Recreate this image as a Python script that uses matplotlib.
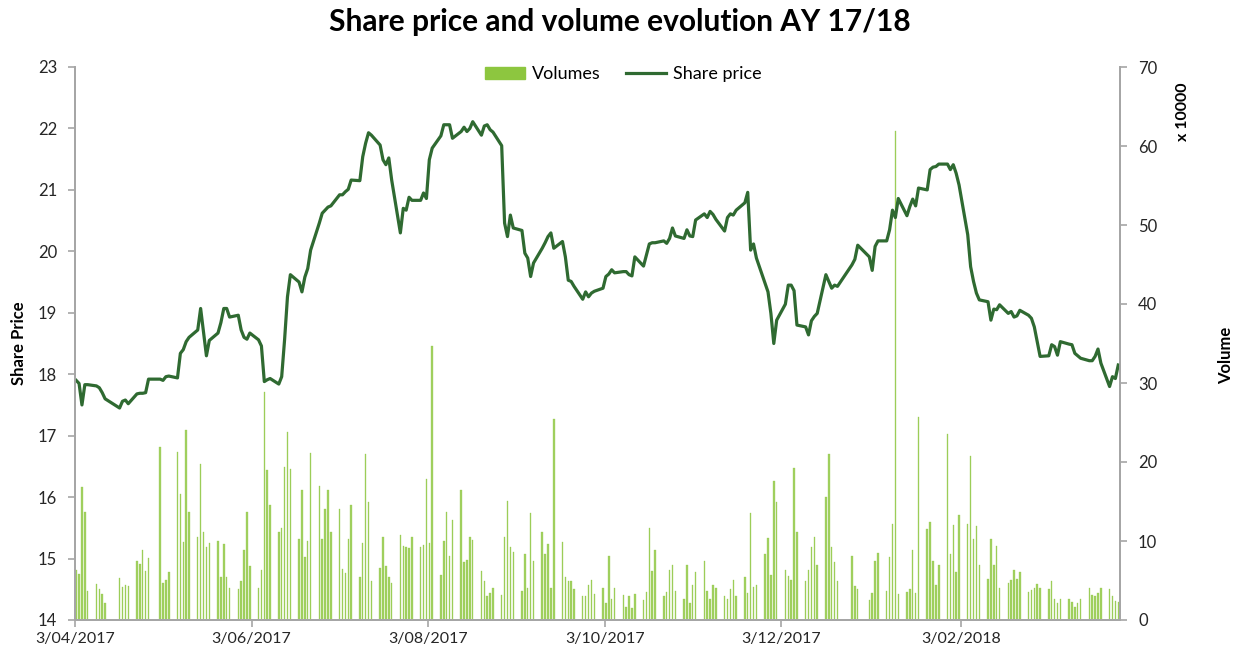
import numpy as np
import pandas as pd
import matplotlib
matplotlib.use("Agg")
import matplotlib.pyplot as plt
import matplotlib.dates as mdates
from matplotlib.patches import Patch
from matplotlib.lines import Line2D

plt.rcParams['font.family'] = ['Lato', 'DejaVu Sans']

# trading days (Euronext holidays removed)
holidays = ['2017-04-14', '2017-04-17', '2017-05-01',
            '2017-12-25', '2017-12-26', '2018-01-01']
days = pd.bdate_range('2017-04-03', '2018-03-29')
days = days[~days.isin(pd.to_datetime(holidays))]

# share price, one row per week
price = [
    17.90, 17.85, 17.50, 17.83, 17.83,
    17.81, 17.78, 17.70, 17.60,
    17.45, 17.56, 17.58, 17.52,
    17.68, 17.69, 17.69, 17.70, 17.92,
    17.92, 17.90, 17.96, 17.97,
    17.94, 18.34, 18.40, 18.53, 18.60,
    18.72, 19.07, 18.68, 18.30, 18.55,
    18.67, 18.84, 19.07, 19.07, 18.93,
    18.96, 18.72, 18.60, 18.57, 18.67,
    18.56, 18.46, 17.88, 17.91, 17.93,
    17.84, 17.96, 18.56, 19.26, 19.62,
    19.50, 19.34, 19.58, 19.72, 20.02,
    20.46, 20.62, 20.67, 20.72, 20.74,
    20.92, 20.92, 20.97, 21.01, 21.16,
    21.15, 21.54, 21.76, 21.93, 21.89,
    21.73, 21.49, 21.41, 21.52, 21.16,
    20.30, 20.70, 20.67, 20.88, 20.83,
    20.83, 20.95, 20.86, 21.49, 21.68,
    21.88, 22.06, 22.06, 22.06, 21.84,
    21.95, 22.02, 21.95, 22.00, 22.11,
    21.89, 22.04, 22.06, 21.98, 21.94,
    21.72, 20.46, 20.24, 20.59, 20.38,
    20.34, 19.97, 19.89, 19.59, 19.81,
    20.05, 20.14, 20.24, 20.30, 20.05,
    20.16, 19.91, 19.53, 19.51, 19.43,
    19.22, 19.34, 19.26, 19.32, 19.35,
    19.40, 19.59, 19.63, 19.70, 19.65,
    19.67, 19.67, 19.62, 19.60, 19.91,
    19.76, 19.94, 20.12, 20.14, 20.14,
    20.17, 20.13, 20.21, 20.38, 20.25,
    20.21, 20.35, 20.25, 20.24, 20.51,
    20.61, 20.55, 20.65, 20.60, 20.52,
    20.33, 20.55, 20.61, 20.59, 20.67,
    20.79, 20.96, 20.02, 20.12, 19.89,
    19.48, 19.34, 18.99, 18.50, 18.88,
    19.14, 19.45, 19.45, 19.36, 18.80,
    18.77, 18.64, 18.87, 18.94, 18.99,
    19.62, 19.51, 19.40, 19.45, 19.43,
    19.78, 19.87, 20.10,
    19.91, 19.69, 20.08, 20.17,
    20.17, 20.35, 20.67, 20.55, 20.86,
    20.58, 20.73, 20.85, 20.74, 21.03,
    21.00, 21.33, 21.37, 21.38, 21.42,
    21.42, 21.33, 21.41, 21.27, 21.08,
    20.27, 19.75, 19.51, 19.32, 19.21,
    19.18, 18.88, 19.06, 19.05, 19.13,
    18.99, 19.02, 18.93, 18.95, 19.04,
    18.96, 18.91, 18.77, 18.53, 18.29,
    18.30, 18.48, 18.45, 18.31, 18.53,
    18.49, 18.48, 18.34, 18.30, 18.26,
    18.22, 18.22, 18.29, 18.41, 18.18,
    17.80, 17.96, 17.93, 18.15,
]

# volume in units of 10000 shares
volume = [
    6.3, 5.8, 16.8, 13.7, 3.7,
    4.6, 3.9, 3.3, 2.2,
    5.3, 4.2, 4.4, 4.3,
    7.5, 7.1, 8.9, 6.2, 7.9,
    21.9, 4.7, 5.1, 6.1,
    21.3, 15.9, 9.9, 24.1, 13.7,
    10.5, 19.8, 11.1, 9.2, 9.7,
    10.0, 5.5, 9.6, 5.4, 4.0,
    3.9, 5.0, 8.9, 13.7, 6.8,
    4.1, 6.3, 28.8, 19.0, 14.6,
    11.1, 11.6, 19.4, 23.8, 19.1,
    10.2, 16.5, 8.0, 10.0, 21.2,
    17.0, 10.2, 14.0, 16.4, 11.1,
    14.0, 6.5, 5.9, 10.3, 14.5,
    5.5, 9.8, 21.0, 14.9, 5.0,
    6.6, 10.5, 6.8, 5.4, 4.7,
    10.8, 9.4, 9.2, 9.1, 10.5,
    9.3, 9.5, 17.9, 9.7, 34.7,
    5.7, 10.0, 13.7, 8.1, 12.7,
    16.5, 7.4, 7.6, 10.5, 10.1,
    6.2, 4.9, 3.1, 3.4, 4.1,
    3.2, 10.5, 15.1, 9.2, 8.6,
    3.7, 8.3, 4.1, 13.6, 7.5,
    11.1, 8.3, 9.6, 4.1, 25.4,
    9.9, 5.4, 5.0, 5.0, 3.9,
    3.0, 3.0, 4.4, 5.1, 3.3,
    4.1, 2.1, 8.1, 2.7, 4.1,
    3.2, 1.6, 3.0, 1.5, 3.3,
    2.5, 3.6, 11.7, 6.2, 8.9,
    3.0, 3.6, 6.3, 7.0, 3.7,
    2.6, 7.0, 2.1, 4.4, 6.1,
    7.5, 3.7, 2.7, 4.4, 4.1,
    3.1, 2.7, 3.9, 5.1, 3.1,
    5.4, 3.4, 13.5, 4.2, 4.4,
    8.4, 10.4, 5.7, 17.6, 14.9,
    6.3, 5.6, 5.1, 19.3, 11.1,
    4.9, 6.3, 9.3, 10.5, 7.0,
    15.6, 21.0, 9.3, 7.3, 5.0,
    8.1, 4.3, 3.9,
    2.5, 3.4, 7.5, 8.5,
    3.7, 8.0, 12.2, 61.9, 3.3,
    3.6, 3.9, 8.8, 3.4, 25.7,
    11.5, 12.4, 7.5, 4.4, 7.0,
    23.5, 8.4, 12.0, 6.1, 13.3,
    12.1, 20.8, 10.2, 11.9, 7.0,
    5.2, 10.3, 7.0, 9.4, 4.1,
    4.7, 5.1, 6.3, 5.2, 6.1,
    3.5, 3.8, 4.1, 4.6, 4.1,
    3.9, 4.9, 2.7, 2.2, 2.7,
    2.6, 2.3, 1.7, 2.1, 2.6,
    4.0, 3.2, 3.0, 3.4, 4.1,
    3.9, 3.0, 2.4, 2.3,
]

tick_dates = ['2017-04-03', '2017-06-03', '2017-08-03',
              '2017-10-03', '2017-12-03', '2018-02-03']

line_col = '#2f6a31'
bar_col = '#8dc63f'
axis_col = '#a6a6a6'
text_col = '#262626'

x = mdates.date2num(days) + 0.4

fig = plt.figure(figsize=(12.39, 6.51), dpi=100)
ax1 = fig.add_axes([75 / 1239, 31 / 651, 1045 / 1239, 553 / 651])
ax2 = ax1.twinx()

ax2.bar(x, volume, width=0.5, color='#a3d163', edgecolor=bar_col,
        linewidth=0.2)
ax1.plot(x, price, color=line_col, linewidth=2.3)

ax1.set_zorder(ax2.get_zorder() + 1)
ax1.patch.set_visible(False)

x0 = mdates.date2num(pd.Timestamp('2017-04-03'))
ax1.set_xlim(x0, x0 + 361)
ax1.set_ylim(14, 23)
ax2.set_ylim(0, 70)
ax1.set_yticks(np.arange(14, 24, 1))
ax2.set_yticks(np.arange(0, 80, 10))

td = pd.to_datetime(tick_dates)
ax1.set_xticks(mdates.date2num(td))
ax1.set_xticklabels([f"{d.day}/{d.month:02d}/{d.year}" for d in td])

for ax in (ax1, ax2):
    ax.spines['top'].set_visible(False)
    for s in ('left', 'right', 'bottom'):
        ax.spines[s].set_color(axis_col)
        ax.spines[s].set_linewidth(1.3)
    ax.tick_params(colors=axis_col, labelcolor=text_col, labelsize=12,
                   length=5, width=1.2)
ax1.tick_params(axis='x', labelsize=11.5, pad=4)
ax1.tick_params(axis='y', pad=8)
ax2.tick_params(axis='y', pad=8)

ax1.set_ylabel('Share Price', fontsize=12, fontweight='bold', color='black',
               labelpad=8)
fig.text(1226 / 1239, 1 - 355 / 651, 'Volume', rotation=90, fontsize=12,
         fontweight='bold', ha='center', va='center')
fig.text(1183 / 1239, 1 - 112 / 651, 'x 10000', rotation=90, fontsize=11.5,
         fontweight='bold', ha='center', va='center')

fig.suptitle('Share price and volume evolution AY 17/18', x=620 / 1239,
             y=1 - 22 / 651, va='center', fontsize=21.5, fontweight='bold')

handles = [Patch(color=bar_col), Line2D([], [], color=line_col, linewidth=2.3)]
ax1.legend(handles, ['Volumes', 'Share price'], loc='center',
           bbox_to_anchor=(0.525, 0.987), ncol=2, frameon=False,
           fontsize=13, handlelength=2.2, columnspacing=1.4, handletextpad=0.4)

fig.savefig('out.png', dpi=100)
